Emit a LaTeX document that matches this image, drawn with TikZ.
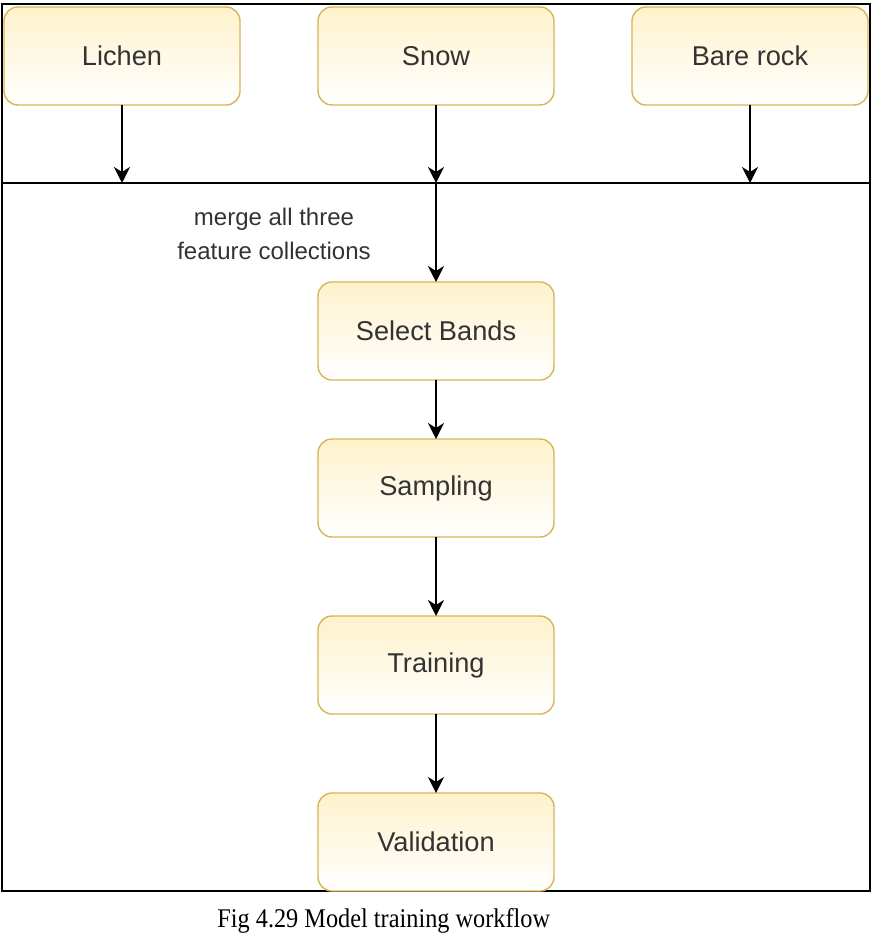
\documentclass[tikz,border=0pt]{standalone}
\usepackage{fontspec}
\setmainfont{Liberation Serif}
\setsansfont{Liberation Sans}
\usepackage{xcolor}
\usetikzlibrary{arrows.meta,positioning}
\definecolor{boxfill}{HTML}{FFF2CC}
\definecolor{boxline}{HTML}{D6B656}
\definecolor{boxtext}{HTML}{333333}

\begin{document}
\begin{tikzpicture}[
  x=0.5pt, y=-0.5pt,
  box/.style={draw=boxline, line width=0.7pt, rounded corners=7pt,
              top color=boxfill, bottom color=white, outer sep=0pt,
              minimum width=118pt, minimum height=49pt, align=center,
              text=boxtext, font=\sffamily\fontsize{13.6}{16}\selectfont},
  flow/.style={->, line width=1pt},
  >={Stealth[length=8pt,width=8pt,inset=2.5pt]},
]
  \useasboundingbox (0,0) rectangle (874,940);
  \draw[line width=1pt] (2,4) rectangle (870,891);

  % the three feature collections
  \node[box] (lichen) at (122,56) {Lichen};
  \node[box, right=39pt of lichen] (snow) {Snow};
  \node[box, right=39pt of snow] (rock) {Bare rock};

  % merge bar
  \coordinate (barL) at (2,183);
  \coordinate (barR) at (870,183);
  \coordinate (merge) at (snow.south |- barL);
  \draw[line width=1pt] (barL) -- (barR);
  \foreach \n in {lichen,snow,rock}
    \draw[flow] (\n) -- (\n.south |- barL);

  \node[align=center, text=boxtext,
        font=\sffamily\fontsize{12}{17}\selectfont] (mergelbl) at (274,234)
    {merge all three\\feature collections};

  % workflow
  \node[box, below=88.5pt of snow] (bands) {Select Bands};
  \node[box, below=29.5pt of bands] (sampling) {Sampling};
  \node[box, below=39.5pt of sampling] (training) {Training};
  \node[box, below=39.5pt of training] (valid) {Validation};

  \draw[flow] (merge) -- (bands);
  \draw[flow] (bands) -- (sampling);
  \draw[flow] (sampling) -- (training);
  \draw[flow] (training) -- (valid);

  \node[anchor=base west, xscale=0.9, inner sep=0pt,
        font=\rmfamily\fontsize{13.5}{16}\selectfont] (caption) at (217,927)
    {Fig 4.29 Model training workflow};
\end{tikzpicture}
\end{document}
